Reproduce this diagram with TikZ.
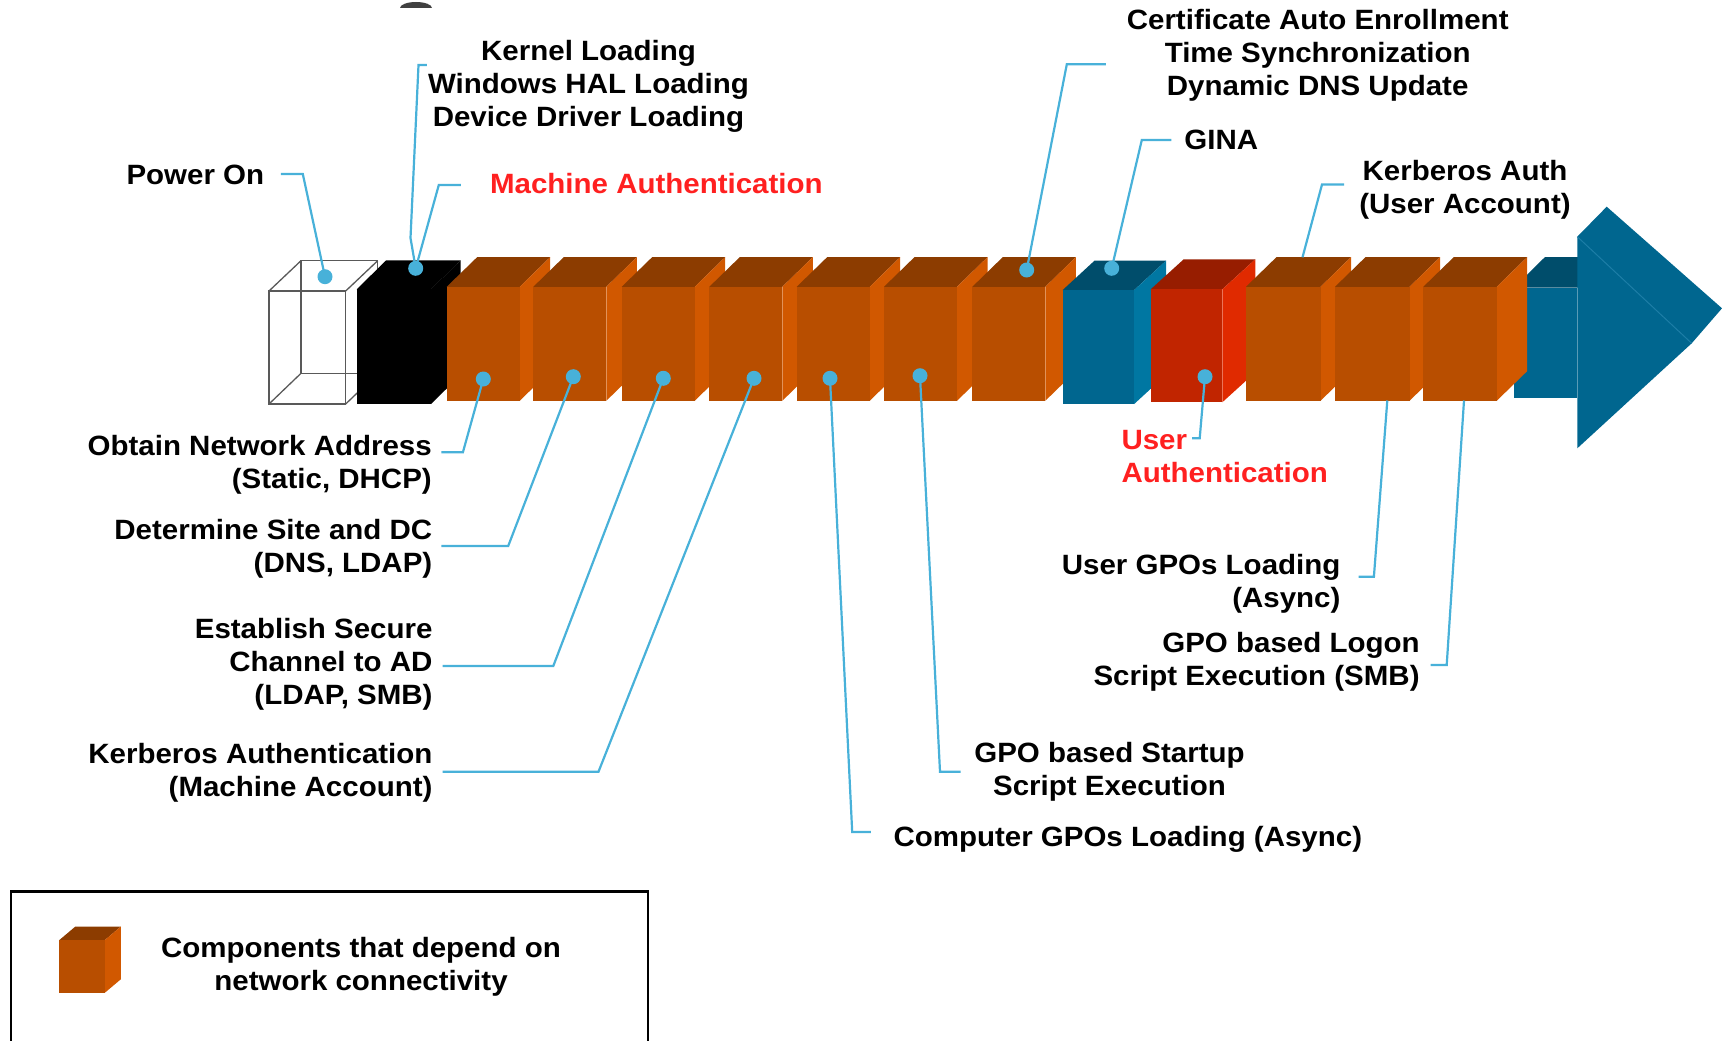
\documentclass[tikz,border=0pt]{standalone}
\usepackage{fontspec}
\setmainfont{Liberation Sans}[FakeStretch=1.057]

\definecolor{orFront}{HTML}{B84E00}
\definecolor{orTop}{HTML}{8C3C00}
\definecolor{orSide}{HTML}{D15800}
\definecolor{blFront}{HTML}{00668F}
\definecolor{blTop}{HTML}{004D6B}
\definecolor{blSide}{HTML}{0077A2}
\definecolor{blEdge}{HTML}{1C7DA6}
\definecolor{rdFront}{HTML}{C12500}
\definecolor{rdTop}{HTML}{971D00}
\definecolor{rdSide}{HTML}{E02A00}
\definecolor{pinBlue}{HTML}{48B1D9}
\definecolor{lblRed}{HTML}{FF2020}

% extruded block: x, front top y, front bottom y, width, depth x, depth y,
% front colour, top colour, side colour
\newcommand\boxcube[9]{%
  \fill[#8] (#1,#2) -- ++(#5,-#6) -- ++(#4,0) -- ++(-#5,#6) -- cycle;
  \fill[#9] (#1+#4,#2) -- ++(#5,-#6) -- (#1+#4+#5,#3-#6) -- (#1+#4,#3) -- cycle;
  \fill[#7] (#1,#2) rectangle (#1+#4,#3);
}
\newcommand\netbox[2]{\boxcube{#1}{286.8}{400.8}{#2}{30.5}{29.7}{orFront}{orTop}{orSide}}

\tikzset{
  lbl/.style={font=\fontsize{27.9}{33}\selectfont\bfseries, inner sep=0pt, text=black},
  pin/.style={circle, fill=pinBlue, inner sep=0pt, minimum size=15pt},
  lead/.style={draw=pinBlue, line width=2.2pt},
  wire/.style={draw=black!65, line width=1.3pt},
}

\begin{document}
\begin{tikzpicture}[x=1pt, y=-1pt]
\useasboundingbox (0,0) rectangle (1722,1041);
\clip (0,0) rectangle (1722,1041);

% small dark cap on the top edge
\fill[black!75] (400,8) arc[start angle=180, end angle=360, x radius=16, y radius=6] -- cycle;

% timeline arrow (body and head)
\fill[blTop] (1514,287.7) -- (1545,257) -- (1608,257) -- (1577.3,287.7) -- cycle;
\fill[blFront] (1514,287.7) rectangle (1577.3,398.3);
\fill[blFront] (1577.3,236.7) -- (1606.7,206.7) -- (1722,308.3) -- (1691.7,343.3) -- cycle;
\fill[blFront] (1577.3,236.7) -- (1691.7,343.3) -- (1577.3,448.3) -- cycle;
\draw[blEdge, line width=1pt] (1577.3,236.7) -- (1691.7,343.3);

% power-on frame
\draw[wire] (269,291) rectangle (345.7,404);
\draw[wire] (301,260.7) rectangle (377.7,373.3);
\draw[wire] (269,291) -- (301,260.7) (345.7,291) -- (377.7,260.7)
            (345.7,404) -- (377.7,373.3) (269,404) -- (301,373.3);

% boot stages
\boxcube{356.7}{289.3}{404}{74.3}{29.5}{29}{black}{black}{black}
\netbox{446.7}{73}
\netbox{533.3}{73}
\netbox{621.7}{73}
\netbox{709.3}{73}
\netbox{796.7}{73}
\netbox{884}{73}
\netbox{972.3}{73}
\boxcube{1062.7}{290}{404}{71.5}{32}{29.5}{blFront}{blTop}{blSide}
\boxcube{1150.7}{289.3}{402.3}{71.6}{33}{30}{rdFront}{rdTop}{rdSide}
\netbox{1246}{74.5}
\netbox{1335}{74.5}
\netbox{1423.3}{73.4}

% labels
\node[lbl, anchor=east] (tPower) at (264.4,177.4) {\strut Power On};
\node[lbl, align=center] (tKernel) at (588.5,86.8)
  {\strut Kernel Loading\\\strut Windows HAL Loading\\\strut Device Driver Loading};
\node[lbl, anchor=west, text=lblRed] (tMachine) at (489.9,186.7) {\strut Machine Authentication};
\node[lbl, align=center] (tCert) at (1317.7,56.3)
  {\strut Certificate Auto Enrollment\\\strut Time Synchronization\\\strut Dynamic DNS Update};
\node[lbl, anchor=west] (tGina) at (1184.2,142.6) {\strut GINA};
\node[lbl, align=center] (tKerbUser) at (1465,190) {\strut Kerberos Auth\\\strut (User Account)};
\node[lbl, align=right, anchor=east] (tObtain) at (432,465.6)
  {\strut Obtain Network Address\\\strut (Static, DHCP)};
\node[lbl, align=right, anchor=east] (tSite) at (432.5,549.3)
  {\strut Determine Site and DC\\\strut (DNS, LDAP)};
\node[lbl, align=right, anchor=east] (tChannel) at (432.7,665)
  {\strut Establish Secure\\\strut Channel to AD\\\strut (LDAP, SMB)};
\node[lbl, align=right, anchor=east] (tKerbMach) at (432.7,773.8)
  {\strut Kerberos Authentication\\\strut (Machine Account)};
\node[lbl, anchor=west] (tCompGpo) at (893.3,839.6) {\strut Computer GPOs Loading (Async)};
\node[lbl, align=center] (tStartup) at (1109.5,772.4)
  {\strut GPO based Startup\\\strut Script Execution};
\node[lbl, align=left, anchor=west, text=lblRed] (tUserAuth) at (1121.3,459.3)
  {\strut User\\\strut Authentication};
\node[lbl, align=right, anchor=east] (tUserGpo) at (1340.6,584.4)
  {\strut User GPOs Loading\\\strut (Async)};
\node[lbl, align=right, anchor=east] (tLogon) at (1419.8,662.2)
  {\strut GPO based Logon\\\strut Script Execution (SMB)};

% pin positions
\coordinate (pPower) at (325,276.7);
\coordinate (pKernel) at (415.7,268.3);
\coordinate (pObtain) at (483.3,379);
\coordinate (pSite) at (573.3,376.7);
\coordinate (pChannel) at (663.3,378.3);
\coordinate (pKerbMach) at (754,378.3);
\coordinate (pCompGpo) at (830,378.3);
\coordinate (pStartup) at (920,375.7);
\coordinate (pCert) at (1026.7,270);
\coordinate (pGina) at (1111.7,268.3);
\coordinate (pUserAuth) at (1205,376.7);
\coordinate (eKerbUser) at (1302.5,257.3);
\coordinate (eUserGpo) at (1387.3,400.5);
\coordinate (eLogon) at (1464,400.5);

% leader start and bend points
\coordinate (sPower) at (280.9,174);     \coordinate (bPower) at (302.8,174);
\coordinate (sKernel) at (426.8,65);     \coordinate (bKernel) at (418.5,65);
\coordinate (kKernel) at (410.5,238);
\coordinate (sMachine) at (460.8,185);   \coordinate (bMachine) at (438.8,185);
\coordinate (sCert) at (1105.9,64.3);    \coordinate (bCert) at (1066.8,64.3);
\coordinate (sGina) at (1171.3,140);     \coordinate (bGina) at (1141.8,140);
\coordinate (sKerbUser) at (1344,184.5); \coordinate (bKerbUser) at (1322,184.5);
\coordinate (sObtain) at (441.4,452.3);  \coordinate (bObtain) at (462.9,452.3);
\coordinate (sSite) at (441.4,546);      \coordinate (bSite) at (508.2,546);
\coordinate (sChannel) at (442.7,666);   \coordinate (bChannel) at (553.3,666);
\coordinate (sKerbMach) at (442.7,771.7); \coordinate (bKerbMach) at (598.5,771.7);
\coordinate (sCompGpo) at (870.9,832);   \coordinate (bCompGpo) at (852.2,832);
\coordinate (sStartup) at (960.7,771.7); \coordinate (bStartup) at (940,771.7);
\coordinate (sUserAuth) at (1192,438.3); \coordinate (bUserAuth) at (1199.7,438.3);
\coordinate (sUserGpo) at (1358.6,576.7); \coordinate (bUserGpo) at (1373.9,576.7);
\coordinate (sLogon) at (1430.7,665);    \coordinate (bLogon) at (1446.7,665);

% leaders
\draw[lead] (sPower) -- (bPower) -- (pPower);
\draw[lead] (sKernel) -- (bKernel) -- (kKernel) -- (pKernel);
\draw[lead] (sMachine) -- (bMachine) -- (pKernel);
\draw[lead] (sCert) -- (bCert) -- (pCert);
\draw[lead] (sGina) -- (bGina) -- (pGina);
\draw[lead] (sKerbUser) -- (bKerbUser) -- (eKerbUser);
\draw[lead] (sObtain) -- (bObtain) -- (pObtain);
\draw[lead] (sSite) -- (bSite) -- (pSite);
\draw[lead] (sChannel) -- (bChannel) -- (pChannel);
\draw[lead] (sKerbMach) -- (bKerbMach) -- (pKerbMach);
\draw[lead] (sCompGpo) -- (bCompGpo) -- (pCompGpo);
\draw[lead] (sStartup) -- (bStartup) -- (pStartup);
\draw[lead] (sUserAuth) -- (bUserAuth) -- (pUserAuth);
\draw[lead] (sUserGpo) -- (bUserGpo) -- (eUserGpo);
\draw[lead] (sLogon) -- (bLogon) -- (eLogon);

% pins
\foreach \p in {Power,Kernel,Obtain,Site,Channel,KerbMach,CompGpo,Startup,Cert,Gina,UserAuth}
  \node[pin] (d\p) at (p\p) {};

% legend
\draw[line width=2.5pt] (11.2,891.7) rectangle (648.2,1070);
\boxcube{59.4}{940}{992.7}{45.5}{16}{13.5}{orFront}{orTop}{orSide}
\node[lbl, align=center] (tLegend) at (361,967.2)
  {\strut Components that depend on\\\strut network connectivity};
\end{tikzpicture}
\end{document}
